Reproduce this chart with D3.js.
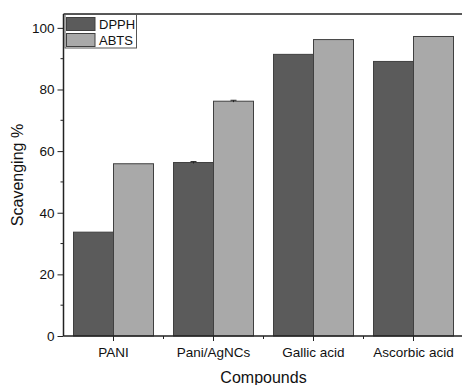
<!DOCTYPE html>
<html><head><meta charset="utf-8">
<script src="https://cdn.jsdelivr.net/npm/d3@7"></script>
<style>body{margin:0;background:#fff}svg{display:block}text{font-family:"Liberation Sans",Arial,sans-serif}</style>
</head><body>
<script>
const categories = ["PANI", "Pani/AgNCs", "Gallic acid", "Ascorbic acid"];
const seriesNames = ["DPPH", "ABTS"];
const dpph = [33.7, 56.3, 91.4, 89.1];
const abts = [55.9, 76.2, 96.2, 97.2];
const dpphErr = [0, 0.3, 0, 0];
const abtsErr = [0, 0.3, 0, 0];
const yTicks = [0, 20, 40, 60, 80, 100];
const colors = ["#5b5b5b", "#a9a9a9"];

const W = 462, H = 385;
const m = {l: 63.5, t: 14, r: -1.5, b: 49};
const svg = d3.select("body").append("svg").attr("width", W).attr("height", H);
const iw = W - m.l - m.r, ih = H - m.t - m.b;
const g = svg.append("g").attr("transform", `translate(${m.l},${m.t})`);

const x = d3.scaleBand().domain(categories).range([0, iw]).paddingInner(0.2).paddingOuter(0.1);
const x0 = d3.scaleBand().domain(categories).range([0, iw]);
const xs = d3.scaleBand().domain(seriesNames).range([0, x.bandwidth()]);
const y = d3.scaleLinear().domain([0, 104.5]).range([ih, 0]);

const series = [dpph, abts], errs = [dpphErr, abtsErr];
series.forEach((vals, si) => {
  const gg = g.append("g");
  gg.selectAll("rect").data(vals).join("rect")
    .attr("x", (d, i) => x0(categories[i]) + x0.bandwidth()/2 - x.bandwidth()/2 + xs(seriesNames[si]))
    .attr("y", d => y(d))
    .attr("width", xs.bandwidth())
    .attr("height", d => ih - y(d))
    .attr("fill", colors[si]).attr("stroke", "#404040").attr("stroke-width", 1);
  vals.forEach((d, i) => {
    const e = errs[si][i];
    if (e > 0) {
      const cx = x0(categories[i]) + x0.bandwidth()/2 - x.bandwidth()/2 + xs(seriesNames[si]) + xs.bandwidth()/2;
      gg.append("line").attr("x1", cx).attr("x2", cx).attr("y1", y(d - e)).attr("y2", y(d + e)).attr("stroke", "#222");
      gg.append("line").attr("x1", cx - 3).attr("x2", cx + 3).attr("y1", y(d + e)).attr("y2", y(d + e)).attr("stroke", "#222");
    }
  });
});

// frame (top)
g.append("line").attr("x1", 0).attr("x2", iw).attr("y1", 0).attr("y2", 0).attr("stroke", "#222").attr("stroke-width", 1.5);

// y axis
const yAx = g.append("g").call(d3.axisLeft(y).tickValues(yTicks).tickSize(6).tickPadding(3));
yAx.selectAll("text").attr("font-size", 13.5).attr("fill", "#111");
yAx.select(".domain").attr("stroke", "#222").attr("stroke-width", 1.5).attr("d", `M0,${ih}V0`);
yAx.selectAll("line").attr("stroke", "#222");
const yMinor = [10, 30, 50, 70, 90];
g.append("g").selectAll("line").data(yMinor).join("line")
  .attr("x1", -3).attr("x2", 0).attr("y1", d => y(d)).attr("y2", d => y(d)).attr("stroke", "#222");

// x axis
const xAx = g.append("g").attr("transform", `translate(0,${ih})`).call(d3.axisBottom(x0).tickSize(5).tickPadding(6));
xAx.selectAll("text").attr("font-size", 13.5).attr("fill", "#111");
xAx.select(".domain").attr("stroke", "#222").attr("stroke-width", 1.5).attr("d", `M0,0H${iw}`);
xAx.selectAll("line").attr("stroke", "#222");
g.append("g").attr("transform", `translate(0,${ih})`).selectAll("line").data(categories.slice(1)).join("line")
  .attr("x1", d => x0(d)).attr("x2", d => x0(d)).attr("y1", 0).attr("y2", 3).attr("stroke", "#222");

// titles
svg.append("text").attr("x", m.l + 200).attr("y", 383).attr("text-anchor", "middle").attr("font-size", 16).attr("fill", "#111").text("Compounds");
svg.append("text").attr("transform", `translate(23,175) rotate(-90)`).attr("text-anchor", "middle").attr("font-size", 16).attr("fill", "#111").text("Scavenging %");

// legend
const lg = svg.append("g");
lg.append("rect").attr("x", 65).attr("y", 14.5).attr("width", 71.5).attr("height", 33.5).attr("fill", "#fff").attr("stroke", "#555").attr("stroke-width", 1);
seriesNames.forEach((s, i) => {
  lg.append("rect").attr("x", 66.5).attr("y", 17.5 + i * 16).attr("width", 28.5).attr("height", 13).attr("fill", colors[i]).attr("stroke", "#404040");
  lg.append("text").attr("x", 99).attr("y", 29 + i * 16).attr("font-size", 13).attr("fill", "#111").text(s);
});
</script>
</body></html>
